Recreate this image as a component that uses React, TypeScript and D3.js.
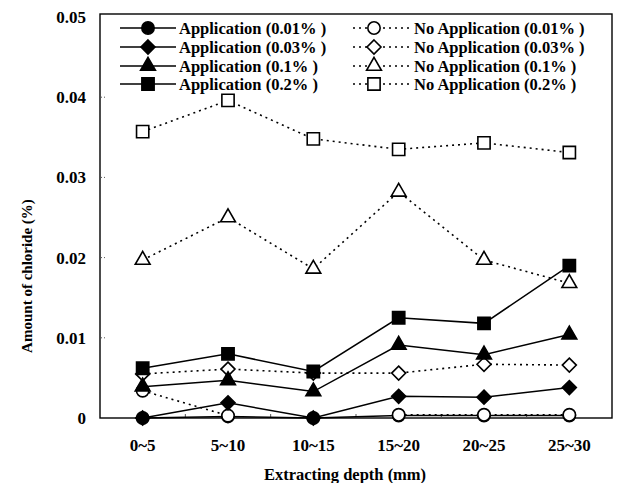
import React from "react";
import * as d3 from "d3";

const categories = ["0~5", "5~10", "10~15", "15~20", "20~25", "25~30"];
const app001 = [0, 0.0002, 0, 0.0003, 0.0003, 0.0003];
const app003 = [0, 0.0019, 0, 0.0027, 0.0026, 0.0038];
const app01 = [0.0039, 0.0047, 0.0033, 0.0091, 0.0079, 0.0104];
const app02 = [0.0062, 0.008, 0.0058, 0.0125, 0.0118, 0.019];
const noApp001: (number | null)[] = [0.0034, 0.0003, null, 0.0004, 0.0004, 0.0004];
const noApp003 = [0.0055, 0.0061, 0.0056, 0.0056, 0.0067, 0.0066];
const noApp01 = [0.0197, 0.025, 0.0186, 0.0282, 0.0197, 0.0168];
const noApp02 = [0.0357, 0.0396, 0.0348, 0.0335, 0.0343, 0.0331];
const yTicks = [0, 0.01, 0.02, 0.03, 0.04, 0.05];
const yTickLabels = ["0", "0.01", "0.02", "0.03", "0.04", "0.05"];

type Shape = "circle" | "diamond" | "triangle" | "square";
interface Series {
  name: string;
  values: (number | null)[];
  shape: Shape;
  filled: boolean;
}

const legendLeft: Series[] = [
  { name: "Application (0.01% )", values: app001, shape: "circle", filled: true },
  { name: "Application (0.03% )", values: app003, shape: "diamond", filled: true },
  { name: "Application (0.1% )", values: app01, shape: "triangle", filled: true },
  { name: "Application (0.2% )", values: app02, shape: "square", filled: true },
];
const legendRight: Series[] = [
  { name: "No Application (0.01% )", values: noApp001, shape: "circle", filled: false },
  { name: "No Application (0.03% )", values: noApp003, shape: "diamond", filled: false },
  { name: "No Application (0.1% )", values: noApp01, shape: "triangle", filled: false },
  { name: "No Application (0.2% )", values: noApp02, shape: "square", filled: false },
];
// drawing order
const drawOrder: Series[] = [
  legendLeft[0],
  legendRight[0],
  legendRight[1],
  legendRight[2],
  legendRight[3],
  legendLeft[1],
  legendLeft[2],
  legendLeft[3],
];

const FONT = "'Liberation Serif', 'Times New Roman', serif";

function markerPath(shape: Shape): string {
  switch (shape) {
    case "circle":
      return d3.symbol(d3.symbolCircle, 120)()!;
    case "square":
      return d3.symbol(d3.symbolSquare, 150)()!;
    case "triangle":
      return d3.symbol(d3.symbolTriangle, 95)()!;
    case "diamond":
      return "M0,-7L7,0L0,7L-7,0Z";
  }
}

function Marker({ x, y, s }: { x: number; y: number; s: Series }) {
  return (
    <path
      d={markerPath(s.shape)}
      transform={`translate(${x},${y})`}
      fill={s.filled ? "#000" : "#fff"}
      stroke="#000"
      strokeWidth={1.6}
    />
  );
}

export default function App() {
  const W = 617;
  const H = 483;
  const left = 100;
  const right = 612;
  const top = 14;
  const bottom = 418;

  const x = d3.scalePoint<string>().domain(categories).range([left, right]).padding(0.5);
  const y = d3.scaleLinear().domain([0, 0.05]).range([bottom, 17]);
  const step = x.step();

  const line = d3
    .line<number | null>()
    .defined((d) => d !== null)
    .x((_, i) => x(categories[i])!)
    .y((d) => y(d as number));

  const legendRows = [28, 47, 66, 84];

  return (
    <svg width={W} height={H} style={{ position: "absolute", left: 0, top: 0, background: "#fff" }}>
      <rect x={0} y={0} width={W} height={H} fill="#fff" />
      {/* frame */}
      <rect x={left} y={top} width={right - left} height={bottom - top} fill="none" stroke="#000" strokeWidth={1.4} />
      {/* y ticks */}
      {yTicks.map((t, i) => (
        <g key={"yt" + i}>
          {i > 0 && i < yTicks.length - 1 && (
            <line x1={left} x2={left + 5} y1={y(t)} y2={y(t)} stroke="#555" strokeWidth={1} strokeDasharray="2,2" />
          )}
          <text
            x={86}
            y={y(t)}
            dy="0.35em"
            textAnchor="end"
            fontFamily={FONT}
            fontWeight="bold"
            fontSize={17}
          >
            {yTickLabels[i]}
          </text>
        </g>
      ))}
      {/* x ticks at boundaries */}
      {categories.slice(1).map((c, i) => (
        <line
          key={"xt" + i}
          x1={x(c)! - step / 2}
          x2={x(c)! - step / 2}
          y1={bottom}
          y2={bottom - 4}
          stroke="#555"
          strokeWidth={1}
        />
      ))}
      {categories.map((c) => (
        <text
          key={"xl" + c}
          x={x(c)}
          y={451}
          textAnchor="middle"
          fontFamily={FONT}
          fontWeight="bold"
          fontSize={17}
        >
          {c}
        </text>
      ))}
      <text x={345} y={480} textAnchor="middle" fontFamily={FONT} fontWeight="bold" fontSize={16.5}>
        Extracting depth (mm)
      </text>
      <text
        transform="translate(32,276) rotate(-90)"
        textAnchor="middle"
        fontFamily={FONT}
        fontWeight="bold"
        fontSize={15}
      >
        Amount of chloride (%)
      </text>
      {/* series */}
      {drawOrder.map((s) => (
        <g key={s.name}>
          <path
            d={line(s.values)!}
            fill="none"
            stroke="#000"
            strokeWidth={s.filled ? 1.5 : 1.6}
            strokeDasharray={s.filled ? undefined : "2,4"}
          />
          {s.values.map((v, i) =>
            v === null ? null : <Marker key={i} x={x(categories[i])!} y={y(v)} s={s} />
          )}
        </g>
      ))}
      {/* legend */}
      {legendLeft.map((s, i) => (
        <g key={"ll" + i}>
          <line x1={120} x2={176} y1={legendRows[i]} y2={legendRows[i]} stroke="#000" strokeWidth={1.5} />
          <Marker x={148} y={legendRows[i]} s={s} />
          <text x={179} y={legendRows[i]} dy="0.35em" fontFamily={FONT} fontWeight="bold" fontSize={16.5}>
            {s.name}
          </text>
        </g>
      ))}
      {legendRight.map((s, i) => (
        <g key={"lr" + i}>
          <line
            x1={353}
            x2={411}
            y1={legendRows[i]}
            y2={legendRows[i]}
            stroke="#000"
            strokeWidth={1.6}
            strokeDasharray="2,4"
          />
          <Marker x={374} y={legendRows[i]} s={s} />
          <text x={414} y={legendRows[i]} dy="0.35em" fontFamily={FONT} fontWeight="bold" fontSize={16.5}>
            {s.name}
          </text>
        </g>
      ))}
    </svg>
  );
}
